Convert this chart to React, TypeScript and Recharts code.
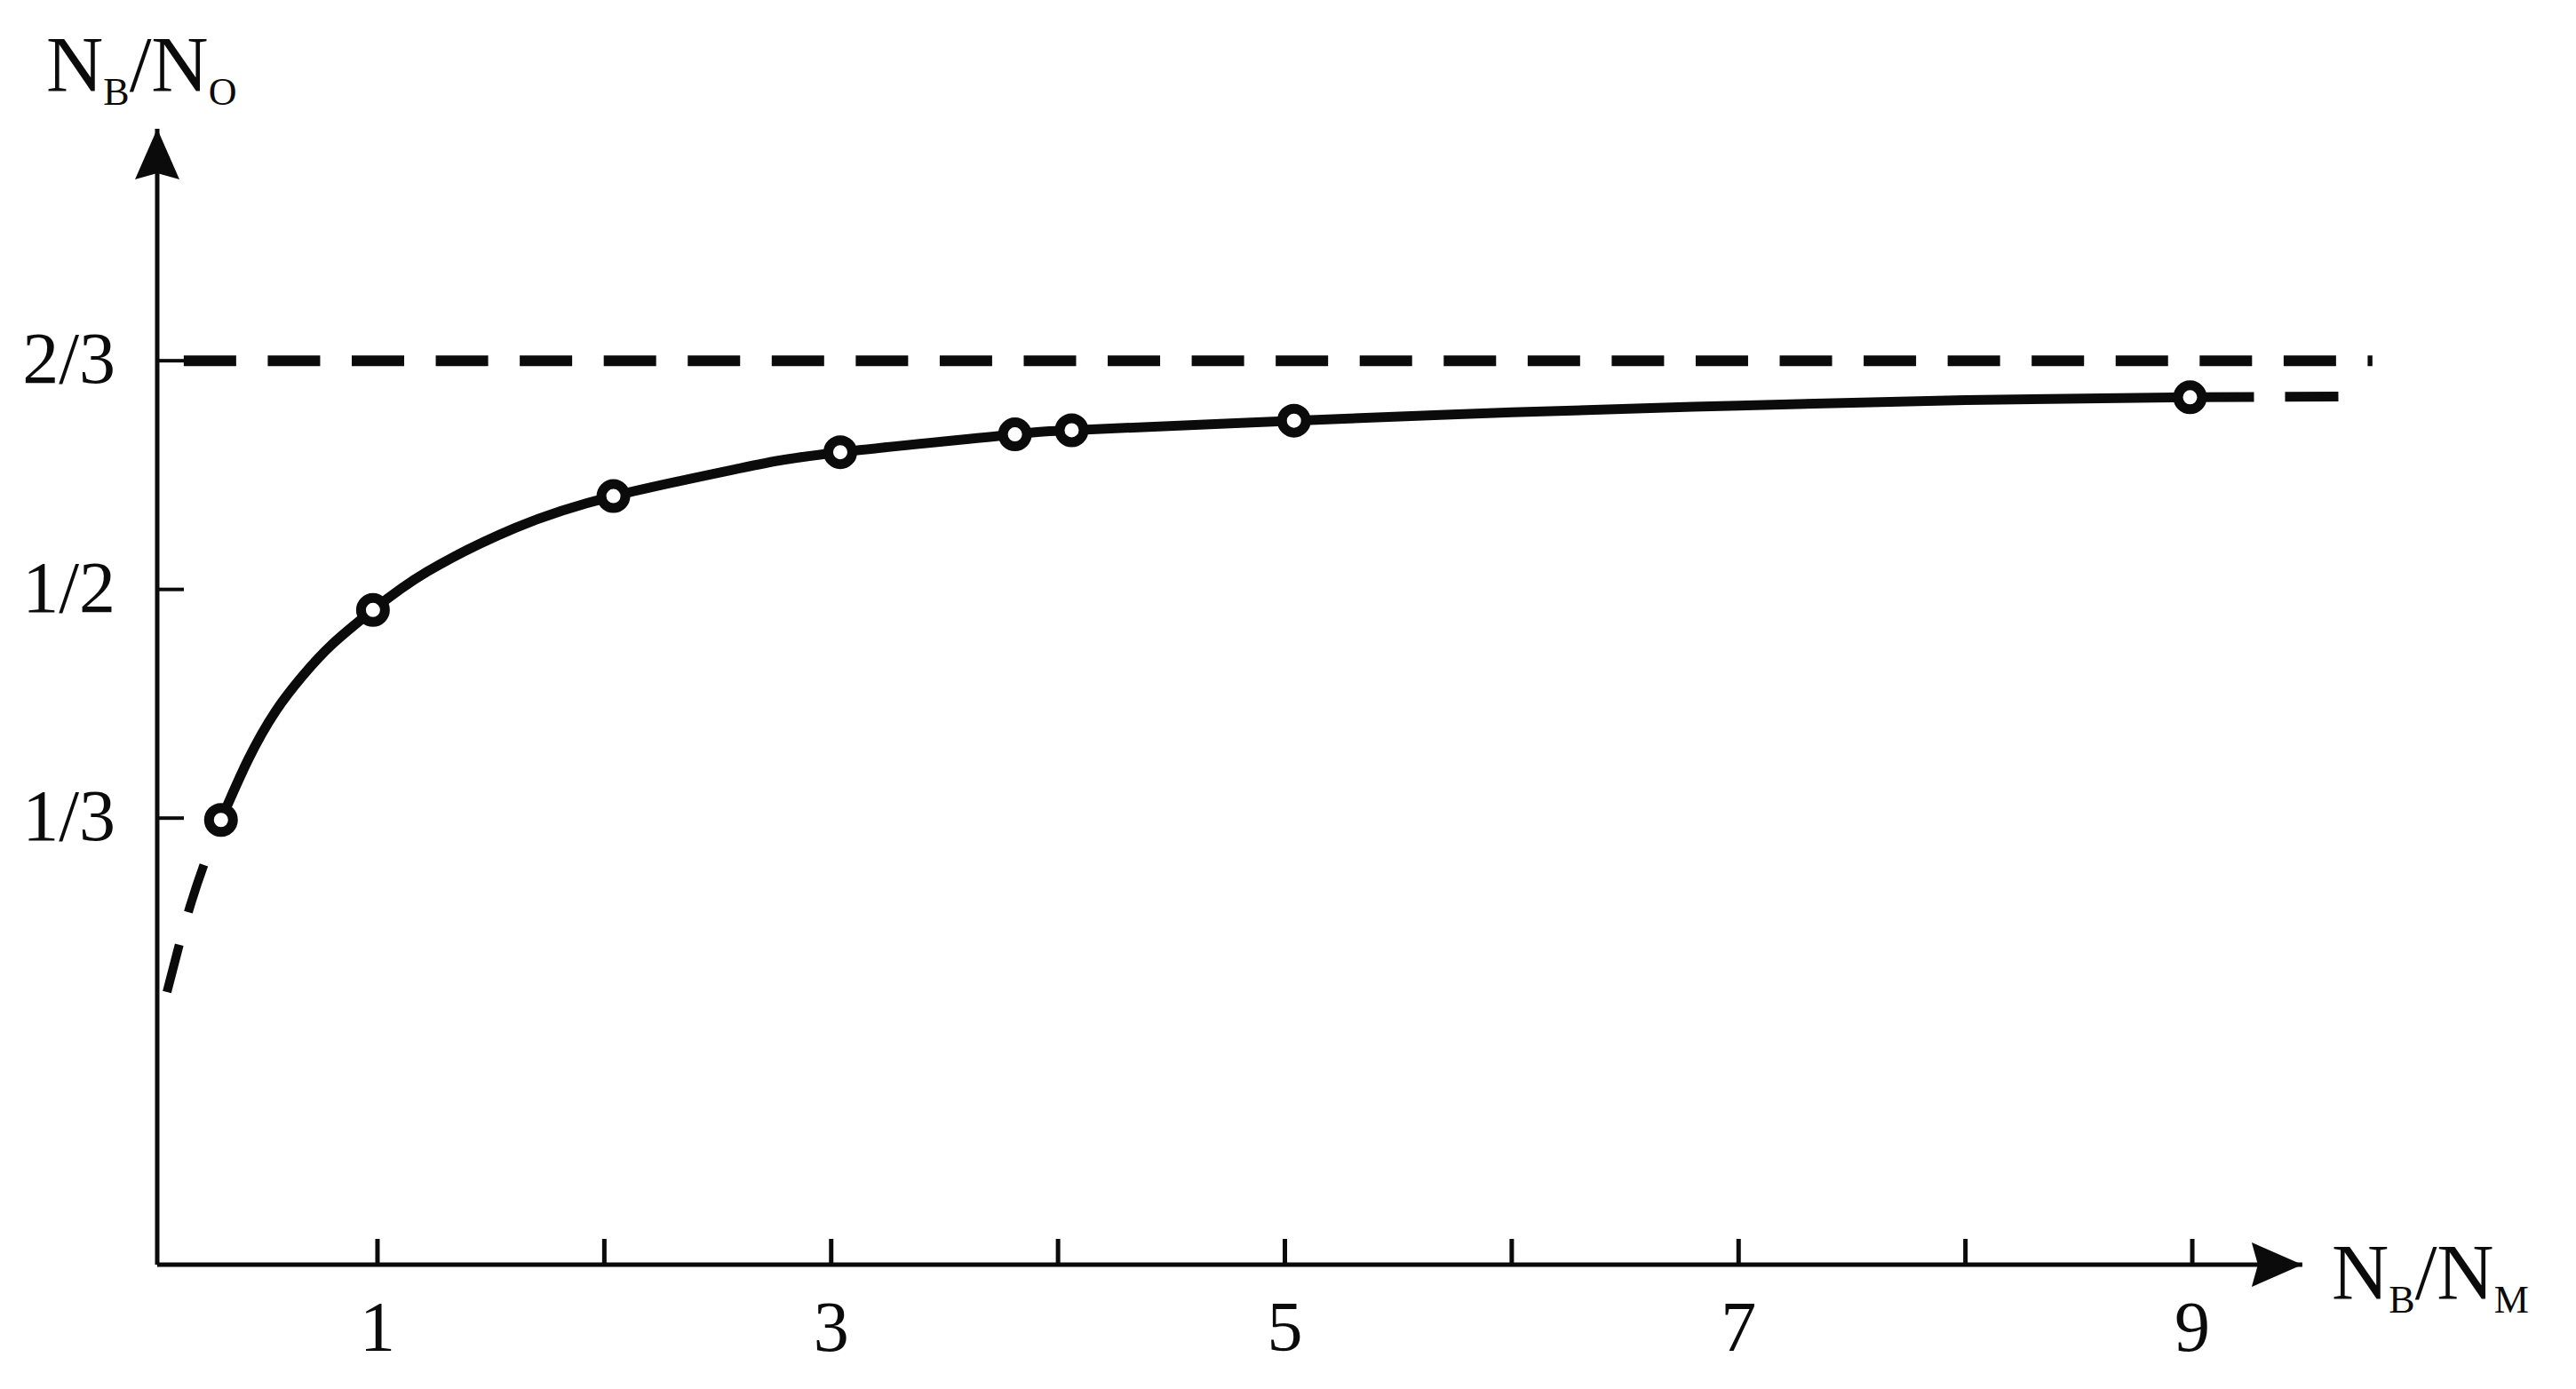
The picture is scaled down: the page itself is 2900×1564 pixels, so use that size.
import React from "react";
import { ComposedChart, Line, XAxis, YAxis, ReferenceLine, ReferenceDot, Label } from "recharts";

// Solid fitted curve
const curveX = [0.31, 0.43, 0.55, 0.67, 0.8, 0.98, 1.22, 1.61, 2.04, 2.59, 3.04, 3.81, 4.06, 5.04, 6.0, 7.0, 8.0, 8.99];
const curveY = [0.332, 0.376, 0.411, 0.437, 0.46, 0.485, 0.513, 0.545, 0.568, 0.588, 0.6, 0.613, 0.616, 0.623, 0.629, 0.634, 0.638, 0.64];

// Measured points (open circles)
const markerX = [0.31, 0.98, 2.04, 3.04, 3.81, 4.06, 5.04, 8.99];
const markerY = [0.332, 0.485, 0.568, 0.6, 0.613, 0.616, 0.623, 0.64];

// Dashed extrapolations
const lowExtX = [0.072, 0.166, 0.31];
const lowExtY = [0.2066, 0.2648, 0.332];
const highExtX = [8.99, 9.645];
const highExtY = [0.64, 0.6405];

// Asymptote 2/3
const asymX = [0.146, 9.794];
const asymY = [2 / 3, 2 / 3];

// Axes
const X_MIN = 0.029;
const X_MAX = 9.83;
const Y_MIN = 0.0079;
const Y_MAX = 0.8357;
const X_ARROW_TIP = 9.485;
const xTickValues = [1, 2, 3, 4, 5, 6, 7, 8, 9];
const xTickLabels = ["1", "", "3", "", "5", "", "7", "", "9"];
const yTickValues = [1 / 3, 1 / 2, 2 / 3];
const yTickLabels = ["1/3", "1/2", "2/3"];

const zip = (xs: number[], ys: number[]) => xs.map((x, i) => ({ x, y: ys[i] }));
const curveData = zip(curveX, curveY);
const markerData = zip(markerX, markerY);
const lowExtData = zip(lowExtX, lowExtY);
const highExtData = zip(highExtX, highExtY);
const asymData = zip(asymX, asymY);

const INK = "#0b0b0b";
const FONT = "'Liberation Serif', 'Times New Roman', serif";

function XTick(props: any) {
  const { x, y, payload } = props;
  const idx = xTickValues.indexOf(payload.value);
  const label = idx >= 0 ? xTickLabels[idx] : "";
  return (
    <g>
      <line x1={x} y1={y} x2={x} y2={y - 29} stroke={INK} strokeWidth={5} />
      {label ? (
        <text x={x} y={y + 97} textAnchor="middle" fontFamily={FONT} fontSize={80} fill={INK}>
          {label}
        </text>
      ) : null}
    </g>
  );
}

function YTick(props: any) {
  const { x, y, payload } = props;
  const idx = yTickValues.findIndex((v) => Math.abs(v - payload.value) < 1e-6);
  const label = idx >= 0 ? yTickLabels[idx] : "";
  return (
    <g>
      <line x1={x} y1={y} x2={x + 30} y2={y} stroke={INK} strokeWidth={4} />
      <text x={x - 47} y={y + 25} textAnchor="end" fontFamily={FONT} fontSize={82} fill={INK}>
        {label}
      </text>
    </g>
  );
}

function YTitle(props: any) {
  const vb = props.viewBox || { x: 27, y: 145, width: 150, height: 1279 };
  return (
    <text x={vb.x + vb.width - 125} y={vb.y - 43} fontFamily={FONT} fontSize={89} fill={INK}>
      N
      <tspan fontSize={44} dy={16}>B</tspan>
      <tspan fontSize={89} dy={-16}>/N</tspan>
      <tspan fontSize={44} dy={16}>O</tspan>
    </text>
  );
}

function XTitle(props: any) {
  const vb = props.viewBox || { x: 177, y: 1424, width: 2503, height: 100 };
  return (
    <text x={vb.x + vb.width - 55} y={vb.y + 38} fontFamily={FONT} fontSize={89} fill={INK}>
      N
      <tspan fontSize={44} dy={16}>B</tspan>
      <tspan fontSize={89} dy={-16}>/N</tspan>
      <tspan fontSize={44} dy={16}>M</tspan>
    </text>
  );
}

const ringDot = (props: any) => {
  const { cx, cy, index } = props;
  if (cx == null || cy == null) return <g key={`r-${index}`} />;
  return <circle key={`r-${index}`} cx={cx} cy={cy} r={13.5} fill="#ffffff" stroke={INK} strokeWidth={11} />;
};

const xArrow = (props: any) => {
  const { cx, cy } = props;
  return <path d={`M ${cx} ${cy} L ${cx - 57} ${cy - 25} L ${cx - 50} ${cy} L ${cx - 57} ${cy + 25} Z`} fill={INK} />;
};

const yArrow = (props: any) => {
  const { cx, cy } = props;
  return <path d={`M ${cx} ${cy} L ${cx - 25} ${cy + 57} L ${cx} ${cy + 50} L ${cx + 25} ${cy + 57} Z`} fill={INK} />;
};

export default function App() {
  return (
    <div style={{ position: "absolute", left: 0, top: 0, width: 2900, height: 1564, background: "#ffffff" }}>
      <ComposedChart width={2900} height={1564} margin={{ top: 145, right: 220, bottom: 40, left: 27 }}>
        <XAxis
          type="number"
          dataKey="x"
          domain={[X_MIN, X_MAX]}
          allowDataOverflow
          ticks={xTickValues}
          interval={0}
          height={100}
          axisLine={false}
          tickLine={false}
          tickSize={0}
          tickMargin={0}
          tick={(p: any) => <XTick {...p} />}
        >
          <Label content={(p: any) => <XTitle {...p} />} />
        </XAxis>
        <YAxis
          type="number"
          dataKey="y"
          domain={[Y_MIN, Y_MAX]}
          allowDataOverflow
          ticks={yTickValues}
          interval={0}
          width={150}
          axisLine={false}
          tickLine={false}
          tickSize={0}
          tickMargin={0}
          tick={(p: any) => <YTick {...p} />}
        >
          <Label content={(p: any) => <YTitle {...p} />} />
        </YAxis>

        <ReferenceLine
          segment={[{ x: X_MIN, y: Y_MIN }, { x: X_ARROW_TIP, y: Y_MIN }]}
          stroke={INK}
          strokeWidth={5}
          ifOverflow="visible"
        />
        <ReferenceLine
          segment={[{ x: X_MIN, y: Y_MIN }, { x: X_MIN, y: Y_MAX }]}
          stroke={INK}
          strokeWidth={5}
          ifOverflow="visible"
        />
        <ReferenceDot x={X_ARROW_TIP} y={Y_MIN} r={1} ifOverflow="visible" shape={xArrow} />
        <ReferenceDot x={X_MIN} y={Y_MAX} r={1} ifOverflow="visible" shape={yArrow} />

        <Line
          data={asymData}
          dataKey="y"
          type="linear"
          stroke={INK}
          strokeWidth={12}
          strokeDasharray="59 35.56"
          dot={false}
          activeDot={false}
          isAnimationActive={false}
        />
        <Line
          data={lowExtData}
          dataKey="y"
          type="monotone"
          stroke={INK}
          strokeWidth={10}
          strokeDasharray="55 38 56 400"
          dot={false}
          activeDot={false}
          isAnimationActive={false}
        />
        <Line
          data={highExtData}
          dataKey="y"
          type="linear"
          stroke={INK}
          strokeWidth={11}
          strokeDasharray="72 35 60 400"
          dot={false}
          activeDot={false}
          isAnimationActive={false}
        />
        <Line
          data={curveData}
          dataKey="y"
          type="natural"
          stroke={INK}
          strokeWidth={11}
          dot={false}
          activeDot={false}
          isAnimationActive={false}
        />
        <Line
          data={markerData}
          dataKey="y"
          type="linear"
          stroke="none"
          dot={ringDot}
          activeDot={false}
          isAnimationActive={false}
        />
      </ComposedChart>
    </div>
  );
}
